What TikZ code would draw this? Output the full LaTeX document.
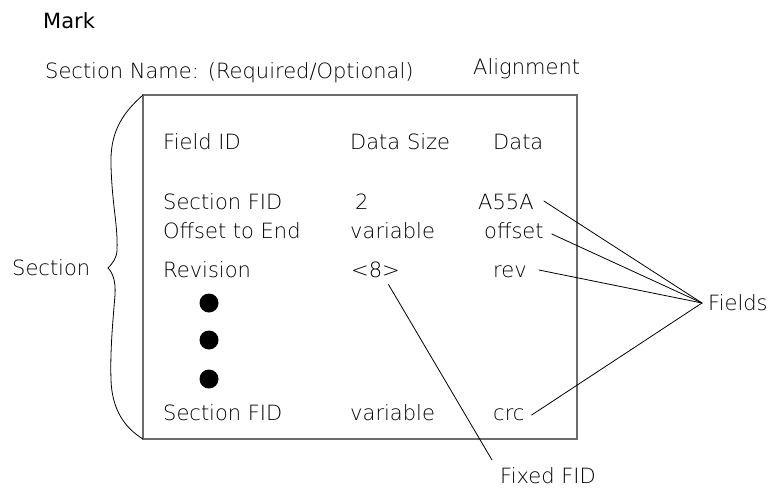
\documentclass[tikz,border=0pt]{standalone}
\usepackage{fontspec}
\setmainfont{DejaVu Sans ExtraLight}
\newfontfamily\markfont{DejaVu Sans}
\usetikzlibrary{positioning}

\begin{document}
\begin{tikzpicture}[x=1pt,y=-1pt,line cap=round,
    txt/.style={anchor=base west,inner sep=0pt,font=\fontsize{21}{25}\selectfont},
    ptr/.style={line width=0.8pt},
    dot/.style={circle,fill,inner sep=0pt,minimum size=19pt}]
  \useasboundingbox (0,0) rectangle (770,488);

  \node[txt] (mark) at (43,28) {\markfont Mark};
  \node[txt] (name) at (45,78) {Section Name: (Required/Optional)};
  \node[txt] (align) at (473,74) {Alignment};

  \draw[gray!85!black,line width=1.6pt] (143,95) coordinate (tl) rectangle (577,439) coordinate (br);
  \coordinate (bl) at (143,439);

  \node[txt] (hfid) at (163,149) {Field ID};
  \node[txt] (hsize) at (350,149) {Data Size};
  \node[txt] (hdata) at (493,149) {Data};

  \node[txt] (fid1) at (163,209) {Section FID};
  \node[txt] (size1) at (355,209) {2};
  \node[txt] (data1) at (478,209) {A55A};
  \node[txt] (fid2) at (163,238) {Offset to End};
  \node[txt] (size2) at (350,238) {variable};
  \node[txt] (data2) at (484,238) {offset};
  \node[txt] (fid3) at (163,277) {Revision};
  \node[txt] (size3) at (351,277) {<8>};
  \node[txt] (data3) at (493,277) {rev};
  \foreach \i/\y in {1/303,2/340,3/379}
    \node[dot] (dot\i) at (209,\y) {};
  \node[txt] (fid4) at (163,420) {Section FID};
  \node[txt] (size4) at (350,420) {variable};
  \node[txt] (data4) at (493,420) {crc};

  \node[txt] (sect) at (12,275) {Section};
  \node[txt] (fields) at (708,310) {Fields};
  \node[txt] (fixed) at (500,483) {Fixed FID};

  % brace round the section
  \draw[ptr] (tl) .. controls (120,115) and (110,135) .. (111,165)
    .. controls (112,205) and (118,225) .. (117,250)
    .. controls (117,258) and (112,264) .. (108,268) coordinate (tip)
    .. controls (112,272) and (116,280) .. (115,295)
    .. controls (113,320) and (110,350) .. (111,380)
    .. controls (112,410) and (125,428) .. (bl);

  \coordinate (meet) at (702,303);
  \draw[ptr] ([shift={(10,-8)}]data1.base east) -- (meet);
  \draw[ptr] ([shift={(8,-4)}]data2.base east) -- (meet);
  \draw[ptr] ([shift={(12,-7)}]data3.base east) -- (meet);
  \draw[ptr] ([shift={(7,-5)}]data4.base east) -- (meet);
  \draw[ptr] ([shift={(13,7)}]size3.south) -- ([shift={(-8,-23)}]fixed.base west);
\end{tikzpicture}
\end{document}
